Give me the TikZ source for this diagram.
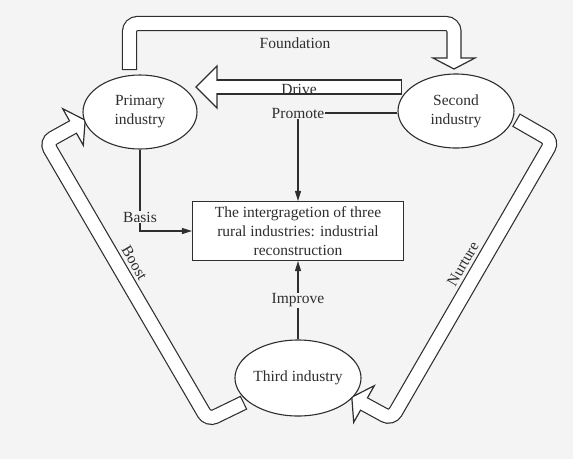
\documentclass[tikz,border=0pt]{standalone}
\usepackage{fontspec}
\setmainfont{Liberation Serif}
\usetikzlibrary{shapes.geometric,arrows.meta}
\definecolor{bg}{HTML}{F4F4F4}
\definecolor{ln}{HTML}{2E2E2E}
\tikzset{
  lbl/.style={font=\fontsize{15.5}{19}\selectfont, text=ln, inner sep=1pt},
  ind/.style={ellipse, draw=ln, line width=1.1pt, fill=white, inner sep=0pt,
    align=center, font=\fontsize{15.5}{19}\selectfont, text=ln},
  hout/.style={draw=ln, line width=15.2pt, rounded corners=8pt},
  hin/.style={draw=white, line width=12.8pt, rounded corners=8pt, shorten <=1.2pt},
  hhead/.style={fill=white, draw=ln, line width=1.2pt, line join=miter},
  thin/.style={draw=ln, line width=1.1pt},
  tri/.style={thin, -{Triangle[length=10pt,width=6pt]}}
}
\begin{document}
\begin{tikzpicture}[x=1pt,y=-1pt]
\useasboundingbox (0,0) rectangle (573,459);
\fill[bg] (0,0) rectangle (573,459);

% Foundation hollow arrow
\draw[hhead] (433,58) -- (454,69) -- (475,58) -- cycle;
\draw[hout] (129.5,70) -- (129.5,23.5) -- (454,23.5) -- (454,58);
\draw[hin] (129.5,70) -- (129.5,23.5) -- (454,23.5) -- (454,59.5);

% Drive hollow arrow
\draw[hhead] (217,66) -- (196,87) -- (217,108) -- cycle;
\draw[hout] (402,87) -- (217,87);
\draw[hin] (402,87) -- (215.5,87);

% Boost hollow arrow
\draw[hhead] (62.7,108.7) -- (85.2,120.1) -- (83.3,145.3) -- cycle;
\draw[hout] (244,402.5) -- (208,420) -- (46,142) -- (73,127);
\draw[hin] (244,402.5) -- (208,420) -- (46,142) -- (74.3,126.3);

% Nurture hollow arrow
\draw[hhead] (374.3,385.7) -- (351.8,397.1) -- (353.7,422.3) -- cycle;
\draw[hout] (516,120) -- (552.5,141) -- (391.5,419) -- (364,404);
\draw[hin] (516,120) -- (552.5,141) -- (391.5,419) -- (362.7,403.3);

% nodes
\node[ind, minimum width=114pt, minimum height=74pt] (primary) at (140,112) {Primary\\industry};
\node[ind, minimum width=116pt, minimum height=74pt] (second) at (456,111) {Second\\industry};
\node[ind, minimum width=116pt, minimum height=76pt] (third) at (298,378) {Third industry};
\node[draw=ln, line width=1.1pt, fill=white, minimum width=211pt, minimum height=59pt,
  align=center, inner sep=0pt, font=\fontsize{15.5}{19}\selectfont, text=ln] (box) at (298,231)
  {The intergragetion of three\\rural industries: industrial\\reconstruction};

% labels
\node[lbl] (found) at (295,43) {Foundation};
\node[lbl, anchor=base] (drive) at (299,94) {Drive};
\node[lbl, anchor=base] (promote) at (298,118) {Promote};
\node[lbl, rotate=-59.7] (boost) at (134.5,263) {Boost};
\node[lbl, rotate=59.9] (nurture) at (463,264) {Nurture};

% thin connectors
\draw[thin] (promote.east) -- (promote.east -| second.west);
\draw[tri] (promote.south) -- (box.north);
\draw[tri] (primary.south) |- (box.west);
\node[lbl, fill=bg] (basis) at (primary.south |- 0,217) {Basis};
\draw[tri] (third.north) -- (box.south) node[lbl, fill=bg, pos=0.5] (improve) {Improve};
\end{tikzpicture}
\end{document}
